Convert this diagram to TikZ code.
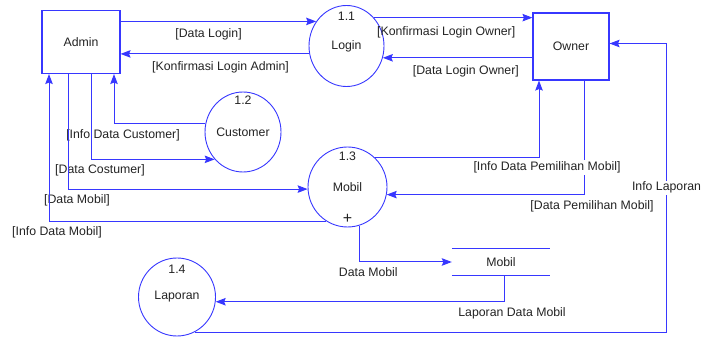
\documentclass[tikz,border=0pt]{standalone}
\usepackage{fontspec}
\setmainfont{Liberation Sans}
\usetikzlibrary{arrows.meta,shapes.geometric}
\definecolor{dfdblue}{RGB}{55,55,255}
\definecolor{dfdtext}{RGB}{35,35,35}

\begin{document}
\begin{tikzpicture}[x=1pt, y=1pt, font=\fontsize{12.3}{14}\selectfont, text=dfdtext,
  entity/.style={draw=dfdblue, line width=1.1pt, minimum width=78pt, minimum height=63pt},
  process/.style={ellipse, draw=dfdblue, line width=0.9pt, inner sep=0pt,
    minimum width=77pt, minimum height=80pt},
  flow/.style={draw=dfdblue, line width=1pt, -{Stealth[length=10pt, width=7.5pt, inset=1.5pt]}},
  lbl/.style={below=2pt, inner sep=3pt, xshift=9pt},
  gap/.style={fill=white, inner sep=1.5pt}]
  \useasboundingbox (0,0) rectangle (702,340);

  \node[entity] (admin) at (81,298) {Admin};
  \node[entity, minimum width=76pt, minimum height=67pt] (owner) at (571,293.5) {Owner};
  \node[process, minimum width=75pt, minimum height=81pt] (login) at (346.5,294) {Login};
  \node[process, minimum width=76pt] (customer) at (243,208) {Customer};
  \node[process, minimum width=79pt] (mobil) at (347.5,153) {Mobil};
  \node[process, minimum height=78pt] (laporan) at (177,43) {Laporan};
  \node (n11) at ([yshift=-11pt]login.north) {1.1};
  \node (n12) at ([yshift=-9pt]customer.north) {1.2};
  \node (n13) at ([yshift=-10pt]mobil.north) {1.3};
  \node (n14) at ([yshift=-12pt]laporan.north) {1.4};
  \node[font=\fontsize{16}{16}\selectfont] (plus) at ([yshift=9pt]mobil.south) {+};

  \node[minimum width=98pt, minimum height=26pt] (store) at (501,78) {Mobil};
  \draw[dfdblue, line width=1pt] (store.north west) -- (store.north east)
    (store.south west) -- (store.south east);

  \draw[flow] (admin.east |- login.141) -- node[pos=0.45, below=3.5pt] {[Data Login]} (login.141);
  \draw[flow] (login.192) -- node[pos=0.47, below=4pt] {[Konfirmasi Login Admin]} (admin.east |- login.192);
  \draw[flow] (login.46) -- node[pos=0.456, below=5pt] {[Konfirmasi Login Owner]} (owner.west |- login.46);
  \draw[flow] (owner.west |- login.-18.5) -- node[pos=0.445, below=4pt] {[Data Login Owner]} (login.-18.5);

  \draw[flow] (customer.168) -| node[lbl] {[Info Data Customer]} ([xshift=33pt]admin.south);
  \draw[flow] ([xshift=10pt]admin.south) |- node[lbl] {[Data Costumer]} (customer.224);
  \draw[flow] ([xshift=-13pt]admin.south) |- node[lbl] {[Data Mobil]} (mobil.183);
  \draw[flow] (mobil.238) -| node[lbl, xshift=-1pt] {[Info Data Mobil]} ([xshift=-32pt]admin.south);

  \draw[flow] ([xshift=13pt]owner.south) |- node[lbl, xshift=-1pt] {[Data Pemilihan Mobil]} (mobil.-11.7);
  \draw[flow] (mobil.47) -| node[lbl, gap, xshift=-1pt] {[Info Data Pemilihan Mobil]} ([xshift=-32pt]owner.south);

  \draw[flow] (mobil.-73) |- node[lbl] {Data Mobil} (store.west);
  \draw[flow] ([xshift=3pt]store.south) |- node[lbl, xshift=-1pt] {Laporan Data Mobil} (laporan.-7);
  \draw[flow] (laporan.-63) -| node[pos=0.75, gap] {Info Laporan} ([xshift=57pt, yshift=3pt]owner.east)
    -- ([yshift=3pt]owner.east);
\end{tikzpicture}
\end{document}
